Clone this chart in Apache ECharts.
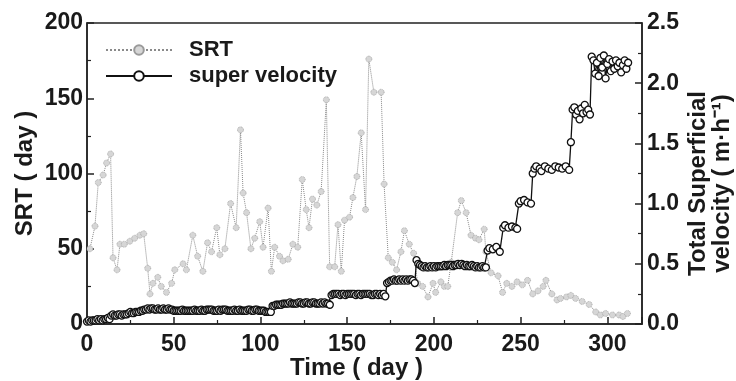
<!DOCTYPE html>
<html>
<head>
<meta charset="utf-8">
<script src="https://cdn.jsdelivr.net/npm/echarts@6/dist/echarts.min.js"></script>
<style>html,body{margin:0;padding:0;background:#fff}#c{width:736px;height:381px}</style>
</head>
<body>
<div id="c"></div>
<script>
// ---- data ----
const srtDay = [1.7,4.6,6.5,9.3,11.3,13.6,15,17.3,19,21.5,24.7,27.5,30.5,32.7,35,36.3,38,40.8,42.8,45.8,48.8,50.6,55.4,57.3,61,63.8,66.8,69.5,71.8,74.8,76.6,79.5,82.8,86,88.5,90,92,94.5,96.7,99.6,101.5,104.4,106.3,108.2,111,113,116,118.7,121.5,124.1,126.4,128,130,132.5,135,138,139.9,142.8,144.7,146.6,148.5,151.4,153.3,155.6,158.1,160.6,162.5,165.4,169.6,171.3,173.7,176,178.5,181,183,185.8,188.3,190.7,193.5,196.6,199.5,201,204,206,208,210,213.7,215.8,218.6,221.4,224,226,229,230,233,237,239.6,242,245,248,251,254,257,260,263,264.6,268,271,273,276.5,279,281.7,285.5,289.5,293.3,296,299,303,306.8,309,311.6];
const srtValue = [50,65,94,99,107,113,44,36,53,53,55,57,59,60,37,20,27,31,25,21,27,36,40,36,59,45,35,54,48,64,46,50,80,64,129,87,74,50,57,68,51,77,35,51,45,42,43,53,51,96,76,64,83,79,88,149,38,38,66,35,69,71,84,98,127,76,176,154,154,93,44,41,36,48,62,53,47,27,25,18,27,21,28,25,25,41,74,82,74,59,57,56,63,48,34,32,21,27,25,28,26,29,20,22,25,29,20,16,17,18,19,17,15,13,8,6,7,6,6,5,7];

const velDay = [
  0,1,2,3,4,5,6,7,8,9,10,11,12,13,
  14,15,16,17,18,19,20,21,22,23,
  24,25,26,27,28,29,30,31,
  32,33,34,35,36,37,38,39,40,41,
  42,43,44,45,46,47,48,49,50,51,
  52,53,54,55,56,57,58,59,60,61,
  62,63,64,65,66,67,68,69,70,71,
  72,73,74,75,76,77,78,79,80,81,
  82,83,84,85,86,87,88,89,90,91,
  92,93,94,95,96,97,98,99,100,101,
  102,103,104,105,106,
  107,108,109,110,111,112,113,114,115,116,
  117,118,119,120,121,122,123,124,125,126,
  127,128,129,130,131,132,133,134,135,136,
  137,138,139,140,
  141,142,143,144,145,146,147,148,149,150,
  151,152,153,154,155,156,157,158,159,160,
  161,162,163,164,165,166,167,168,169,170,
  171,172,
  173,174,175,176,177,178,179,180,181,182,183,184,185,186,187,188,189,
  190,191,192,193,194,195,196,197,198,199,
  200,201,202,203,204,205,206,207,208,209,
  210,211,212,213,214,215,216,217,218,219,
  220,221,222,223,224,225,226,227,228,229,230,
  231,232,234,236,238,
  240,241,243,245,247,248,
  249,250,252,254,256,
  257,258,259,261,262,264,266,268,270,272,274,276,278,
  279,
  280,281,282,283,284,285,286,287,288,289,290,
  291,292,293,294,295,296,297,298,299,300,301,302,303,304,305,306,307,308,309,310,311,312];
const velValue = [
  0.02,0.03,0.02,0.03,0.03,0.03,0.04,0.03,0.04,0.03,0.04,0.04,0.05,0.04,
  0.07,0.08,0.07,0.07,0.08,0.08,0.07,0.08,0.08,0.08,
  0.09,0.10,0.09,0.09,0.10,0.10,0.10,0.11,
  0.11,0.12,0.12,0.13,0.12,0.13,0.13,0.12,0.12,0.13,
  0.12,0.12,0.13,0.12,0.12,0.13,0.12,0.12,0.11,0.11,
  0.11,0.11,0.11,0.12,0.11,0.11,0.11,0.11,0.11,0.11,
  0.12,0.11,0.11,0.11,0.12,0.11,0.11,0.12,0.12,0.12,
  0.12,0.11,0.11,0.11,0.12,0.11,0.12,0.12,0.12,0.11,
  0.11,0.11,0.11,0.12,0.11,0.11,0.12,0.11,0.11,0.11,
  0.11,0.12,0.12,0.11,0.11,0.12,0.12,0.11,0.11,0.11,
  0.11,0.10,0.10,0.10,0.10,
  0.15,0.15,0.16,0.16,0.16,0.16,0.17,0.17,0.17,0.17,
  0.18,0.17,0.17,0.17,0.17,0.18,0.18,0.17,0.17,0.18,
  0.18,0.17,0.17,0.18,0.18,0.17,0.17,0.17,0.18,0.17,
  0.18,0.17,0.17,0.16,
  0.24,0.25,0.25,0.25,0.25,0.24,0.25,0.25,0.24,0.25,
  0.25,0.25,0.25,0.25,0.24,0.25,0.25,0.24,0.25,0.25,
  0.25,0.25,0.25,0.24,0.24,0.25,0.25,0.24,0.25,0.24,
  0.25,0.23,
  0.34,0.35,0.36,0.36,0.37,0.36,0.36,0.37,0.36,0.37,0.36,0.37,0.36,0.37,0.37,0.36,0.34,
  0.53,0.50,0.49,0.48,0.47,0.48,0.47,0.47,0.48,0.47,
  0.48,0.47,0.48,0.48,0.48,0.48,0.49,0.48,0.49,0.49,
  0.49,0.48,0.49,0.49,0.50,0.49,0.50,0.49,0.48,0.49,
  0.48,0.48,0.49,0.48,0.47,0.48,0.47,0.47,0.48,0.47,0.47,
  0.61,0.63,0.62,0.64,0.60,
  0.80,0.82,0.80,0.81,0.80,0.79,
  1.00,1.02,1.03,1.01,1.00,
  1.25,1.29,1.31,1.29,1.27,1.31,1.29,1.28,1.31,1.30,1.29,1.31,1.28,
  1.51,
  1.78,1.80,1.74,1.77,1.70,1.79,1.75,1.82,1.76,1.78,1.74,
  2.22,2.19,2.08,2.17,2.06,2.21,2.13,2.23,2.04,2.16,2.20,2.10,2.18,2.12,2.19,2.14,2.17,2.09,2.15,2.19,2.12,2.17];

const xTicks = {min: 0, max: 320, interval: 50};
const srtTicks = {min: 0, max: 200, interval: 50};
const velTicks = {min: 0, max: 2.5, interval: 0.5};

// ---- chart ----
const FONT = 'Liberation Sans, Arial, sans-serif';
const txt = {fontFamily: FONT, fontWeight: 'bold', fontSize: 23, color: '#1a1a1a'};
const nameTxt = Object.assign({}, txt, {fontSize: 24});
const zip = (a, b) => a.map((v, i) => [v, b[i]]);

const chart = echarts.init(document.getElementById('c'), null, {renderer: 'canvas'});
const axisCommon = {
  nameMoveOverlap: false,
  axisLine: {show: true, lineStyle: {color: '#222', width: 1.5}},
  axisTick: {show: true, inside: true, length: 7, lineStyle: {color: '#222', width: 1.5}},
  minorTick: {show: true, splitNumber: 2, length: 4, lineStyle: {color: '#222', width: 1.2}},
  splitLine: {show: false},
  minorSplitLine: {show: false}
};
chart.setOption({
  animation: false,
  backgroundColor: '#fff',
  grid: {left: 87, right: 94, top: 23, bottom: 57, containLabel: false, outerBoundsMode: 'none',
    show: true, borderColor: '#222', borderWidth: 1.5, backgroundColor: 'transparent'},
  legend: {
    orient: 'vertical', left: 100, top: 34, itemWidth: 66, itemHeight: 12, itemGap: 4,
    textStyle: Object.assign({}, txt, {fontSize: 22, padding: [0, 0, 0, 12], lineHeight: 20}),
    data: ['SRT', 'super velocity']
  },
  xAxis: Object.assign({}, axisCommon, {
    type: 'value', min: xTicks.min, max: xTicks.max, interval: xTicks.interval,
    name: 'Time ( day )', nameLocation: 'middle', nameGap: 32,
    nameTextStyle: Object.assign({}, nameTxt, {padding: [0, 16, 0, 0], lineHeight: 24, verticalAlign: 'top'}),
    axisLabel: Object.assign({}, txt, {margin: 9, showMaxLabel: false})
  }),
  yAxis: [
    Object.assign({}, axisCommon, {
      type: 'value', position: 'left', min: srtTicks.min, max: srtTicks.max, interval: srtTicks.interval,
      name: 'SRT ( day )', nameLocation: 'middle', nameGap: 50, nameRotate: 90,
      nameTextStyle: Object.assign({}, nameTxt),
      axisLabel: Object.assign({}, txt, {margin: 4})
    }),
    Object.assign({}, axisCommon, {
      type: 'value', position: 'right', min: velTicks.min, max: velTicks.max, interval: velTicks.interval,
      name: 'Total Superficial\nvelocity ( m·h⁻¹)', nameLocation: 'middle', nameGap: 44, nameRotate: 90,
      nameTextStyle: Object.assign({}, nameTxt, {lineHeight: 24, align: 'center', verticalAlign: 'top', padding: [0, 20, 0, 0]}),
      axisLabel: Object.assign({}, txt, {margin: 5, formatter: v => v.toFixed(1)})
    })
  ],
  series: [
    {
      name: 'SRT', type: 'line', yAxisIndex: 0, z: 2,
      data: zip(srtDay, srtValue),
      symbol: 'circle', symbolSize: 6, showAllSymbol: true,
      lineStyle: {color: '#8a8a8a', width: 1, type: 'dotted'},
      itemStyle: {color: '#d6d6d6', borderColor: '#9a9a9a', borderWidth: 0.8, borderType: 'dotted'}
    },
    {
      name: 'super velocity', type: 'line', yAxisIndex: 1, z: 3,
      data: zip(velDay, velValue),
      symbol: 'circle', symbolSize: 7, showAllSymbol: true,
      lineStyle: {color: '#111', width: 1.3},
      itemStyle: {color: '#fff', borderColor: '#111', borderWidth: 1.3}
    }
  ]
});
</script>
</body>
</html>
